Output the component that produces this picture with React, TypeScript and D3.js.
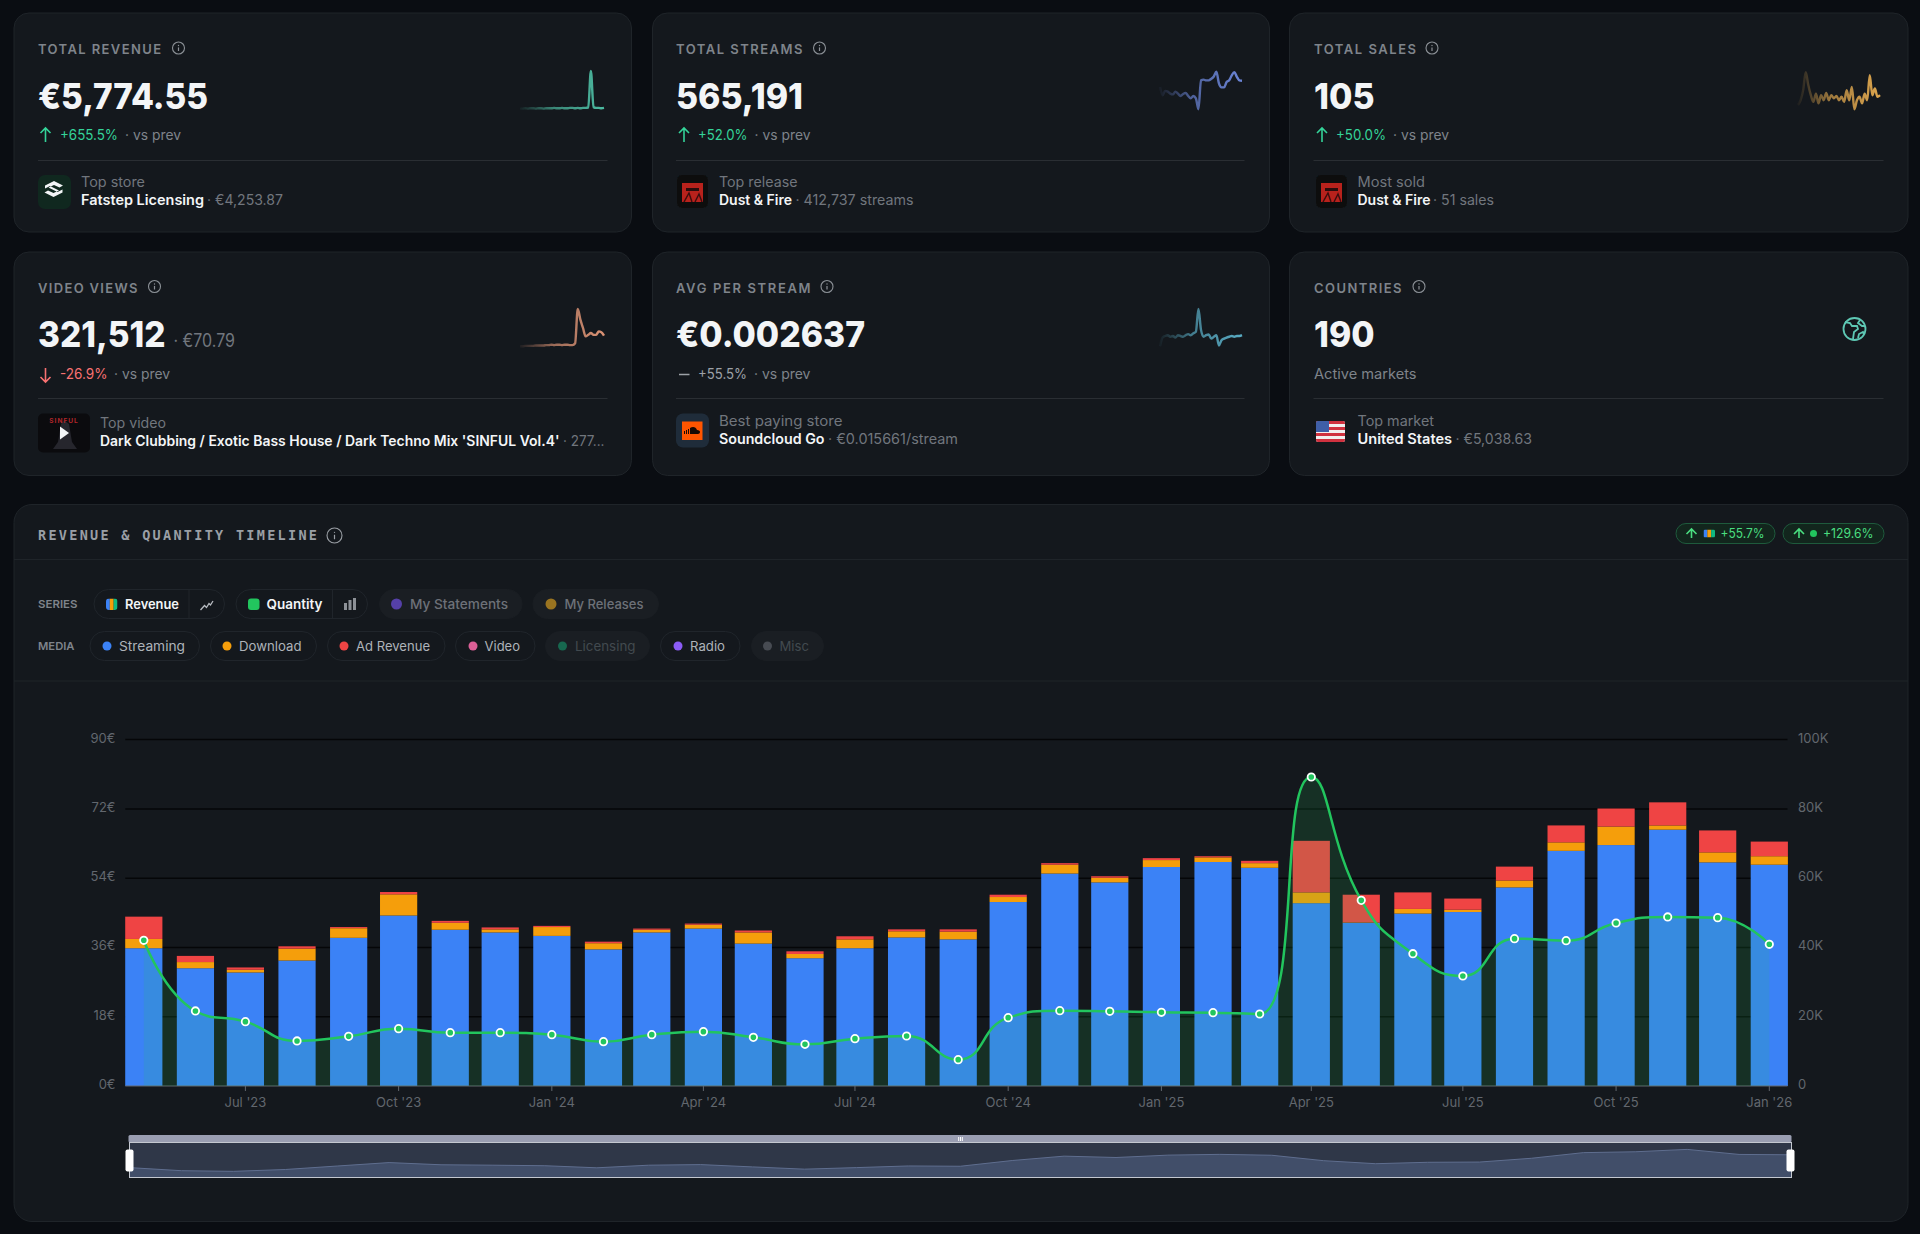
// @ts-nocheck
import * as d3 from "d3"
import * as React from "react"

const months = [
  "2023-05", "2023-06", "2023-07", "2023-08", "2023-09", "2023-10", "2023-11", "2023-12",
  "2024-01", "2024-02", "2024-03", "2024-04", "2024-05", "2024-06", "2024-07", "2024-08",
  "2024-09", "2024-10", "2024-11", "2024-12", "2025-01", "2025-02", "2025-03", "2025-04",
  "2025-05", "2025-06", "2025-07", "2025-08", "2025-09", "2025-10", "2025-11", "2025-12", "2026-01",
]
const streaming = [35.8, 30.6, 29.5, 32.6, 38.5, 44.3, 40.6, 39.9, 39.0, 35.5, 39.9, 40.9, 37.0, 33.2, 35.8, 38.6, 38.1, 47.8, 55.2, 52.9, 56.9, 58.2, 56.7, 47.5, 42.4, 44.8, 45.2, 51.6, 61.1, 62.6, 66.6, 58.1, 57.5]
const download = [2.4, 1.6, 0.7, 3.1, 2.5, 5.5, 1.8, 0.8, 2.3, 1.6, 0.7, 1.0, 2.9, 1.1, 2.3, 1.6, 2.0, 1.3, 2.3, 1.2, 1.8, 1.2, 1.2, 2.8, 0.1, 1.2, 0.6, 1.8, 2.2, 4.8, 1.1, 2.6, 2.2]
const adRevenue = [5.8, 1.6, 0.6, 0.6, 0.3, 0.6, 0.5, 0.5, 0.3, 0.4, 0.3, 0.3, 0.5, 0.7, 0.8, 0.5, 0.6, 0.6, 0.4, 0.4, 0.5, 0.3, 0.6, 13.4, 7.2, 4.3, 2.9, 3.6, 4.4, 4.7, 6.0, 5.7, 3.8]
const quantity = [42060, 21660, 18580, 13000, 14340, 16550, 15400, 15400, 14820, 12800, 14820, 15690, 14050, 12030, 13670, 14440, 7600, 19730, 21750, 21560, 21270, 21170, 20790, 89200, 53600, 38200, 31760, 42540, 41960, 47060, 48800, 48600, 40900]
const tickMonths = ["2023-07", "2023-10", "2024-01", "2024-04", "2024-07", "2024-10", "2025-01", "2025-04", "2025-07", "2025-10", "2026-01"]
const revenueTicks = [0, 18, 36, 54, 72, 90]
const quantityTicks = [0, 20000, 40000, 60000, 80000, 100000]

const sparkRevenue = [1, 1, 2, 1, 2, 2, 1, 2, 2, 1, 2, 2, 2, 3, 2, 2, 3, 2, 2, 3, 3, 2, 3, 2, 3, 3, 4, 100, 5, 3, 3, 2, 3]
const sparkStreams = [59, 38, 49, 47, 42, 40, 47, 42, 36, 41, 44, 36, 30, 36, 30, 2, 76, 78, 76, 76, 80, 86, 98, 68, 58, 58, 72, 76, 89, 97, 85, 76, 75]
const sparkSales = [13, 25, 51, 97, 64, 38, 21, 42, 17, 38, 25, 44, 25, 38, 30, 36, 25, 34, 21, 51, 25, 59, 2, 25, 34, 17, 42, 25, 89, 38, 55, 34, 38]
const sparkVideo = [2, 2, 3, 3, 3, 3, 4, 4, 4, 4, 5, 5, 6, 5, 6, 6, 5, 6, 6, 5, 5, 10, 100, 72, 50, 28, 32, 37, 32, 32, 41, 39, 30]
const sparkAvg = [2, 25, 29, 31, 27, 29, 25, 31, 29, 27, 31, 34, 31, 36, 40, 100, 45, 27, 31, 33, 22, 27, 31, 4, 18, 22, 25, 27, 29, 27, 29, 29, 31]

const UI = "Inter, 'Noto Sans', sans-serif"
const MONO = "'DejaVu Sans Mono', monospace"
const BAR_W = 37.2
const parseMonth = d3.utcParse("%Y-%m")
const fmtTick = d3.utcFormat("%b '%y")

const x = d3.scaleUtc()
  .domain([parseMonth("2023-05"), parseMonth("2026-01")])
  .range([143.8, 1769.3])
const yRev = d3.scaleLinear().domain([0, 90]).range([1086, 739.6])
const yQty = d3.scaleLinear().domain([0, 100000]).range([1086, 739.6])

const table = months.map((m, i) => ({ date: parseMonth(m), streaming: streaming[i], download: download[i], adRevenue: adRevenue[i] }))
const stackKeys = ["streaming", "download", "adRevenue"]
const stackColor = { streaming: "#3b82f6", download: "#f59e0b", adRevenue: "#ef4444" }
const stacked = d3.stack().keys(stackKeys)(table)

// same control points as an echarts smooth line, clamped to the neighbours
function clampedSmooth(smooth) {
  return context => {
    let pts = []
    return {
      lineStart() { pts = [] },
      point(px, py) { pts.push([+px, +py]) },
      lineEnd() {
        context.moveTo(pts[0][0], pts[0][1])
        let cp0 = pts[0]
        for (let i = 0; i < pts.length - 1; i++) {
          const [cx, cy] = pts[i]
          const [nx, ny] = pts[i + 1]
          const after = pts[i + 2]
          if (!after) {
            context.bezierCurveTo(cp0[0], cp0[1], nx, ny, nx, ny)
            break
          }
          const [ax, ay] = after
          const vx = ax - cx
          const vy = ay - cy
          const lenPrev = Math.hypot(nx - cx, ny - cy)
          const lenNext = Math.hypot(ax - nx, ay - ny)
          const ratio = lenNext / (lenNext + lenPrev)
          let c1x = nx + vx * smooth * ratio
          let c1y = ny + vy * smooth * ratio
          c1x = Math.max(Math.min(c1x, Math.max(ax, nx)), Math.min(ax, nx))
          c1y = Math.max(Math.min(c1y, Math.max(ay, ny)), Math.min(ay, ny))
          let c0x = nx - (c1x - nx) * lenPrev / lenNext
          let c0y = ny - (c1y - ny) * lenPrev / lenNext
          c0x = Math.max(Math.min(c0x, Math.max(cx, nx)), Math.min(cx, nx))
          c0y = Math.max(Math.min(c0y, Math.max(cy, ny)), Math.min(cy, ny))
          context.bezierCurveTo(cp0[0], cp0[1], c0x, c0y, nx, ny)
          cp0 = [nx + (nx - c0x) * lenNext / lenPrev, ny + (ny - c0y) * lenNext / lenPrev]
        }
      },
    }
  }
}

const qtyLine = d3.line()
  .x((d, i) => x(table[i].date))
  .y(d => yQty(d))
  .curve(clampedSmooth(0.5))
const qtyPath = qtyLine(quantity)
const qtyArea = `${qtyPath}L${x(table[32].date)},${yQty(0)}L${x(table[0].date)},${yQty(0)}Z`

const miniX = d3.scaleLinear().domain([0, months.length - 1]).range([129.5, 1791])
const miniY = d3.scaleLinear().domain([19.1, 66.6]).range([1177.5, 1149.4])
const miniLine = d3.line().x((d, i) => miniX(i)).y(d => miniY(d))
const miniArea = d3.area().x((d, i) => miniX(i)).y0(1177.5).y1(d => miniY(d))

function T({ x, y, w, size = 14, fill = "#fff", weight = 400, font = UI, anchor, spacing, children }) {
  return (
    <text x={x} y={y} fontSize={size} fill={fill} fontWeight={weight} fontFamily={font} textAnchor={anchor}
      textLength={w} lengthAdjust={w ? (spacing ? "spacing" : "spacingAndGlyphs") : undefined}>
      {children}
    </text>
  )
}

function Info({ cx, cy, r = 6, color = "#8b9096" }) {
  return (
    <g stroke={color} fill="none" strokeWidth={1.1}>
      <circle cx={cx} cy={cy} r={r} />
      <line x1={cx} x2={cx} y1={cy - r * 0.1} y2={cy + r * 0.5} strokeWidth={1.2} />
      <circle cx={cx} cy={cy - r * 0.42} r={0.7} fill={color} stroke="none" />
    </g>
  )
}

function Arrow({ cx, cy, dir = "up", color = "#34d399", size = 7 }) {
  const s = dir === "up" ? -1 : 1
  return (
    <path fill="none" stroke={color} strokeWidth={1.6}
      d={`M${cx},${cy - s * size}L${cx},${cy + s * size}M${cx - 5},${cy + s * (size - 5)}L${cx},${cy + s * size}L${cx + 5},${cy + s * (size - 5)}`} />
  )
}

function Spark({ id, data, x0, x1, top, bottom, color }) {
  const sx = d3.scaleLinear().domain([0, data.length - 1]).range([x0, x1])
  const sy = d3.scaleLinear().domain([0, 100]).range([bottom, top])
  const path = d3.line().x((d, i) => sx(i)).y(d => sy(d)).curve(d3.curveMonotoneX)(data)
  return (
    <g>
      <linearGradient id={id} gradientUnits="userSpaceOnUse" x1={x0} x2={x1} y1={0} y2={0}>
        <stop offset="0" stopColor={color} stopOpacity={0.05} />
        <stop offset="0.4" stopColor={color} stopOpacity={0.65} />
        <stop offset="1" stopColor={color} stopOpacity={0.95} />
      </linearGradient>
      <path d={path} fill="none" stroke={`url(#${id})`} strokeWidth={2.4} filter="url(#soft)" />
    </g>
  )
}

function Card({ x0, x1, y0, y1, r = 15 }) {
  return <rect x={x0 + 0.5} y={y0 + 0.5} width={x1 - x0 - 1} height={y1 - y0 - 1} rx={r} fill="#14181d" stroke="#1f2429" />
}

function Cover({ x0, y0 }) {
  return (
    <g filter="url(#soft)">
      <rect x={x0} y={y0} width={31} height={33} rx={5} fill="#0d0e11" />
      <rect x={x0 + 5} y={y0 + 8} width={21} height={19} fill="#b8201c" />
      <rect x={x0 + 9} y={y0 + 13} width={13} height={3} fill="#2a0a0a" />
      <path d={`M${x0 + 7},${y0 + 27}L${x0 + 12},${y0 + 18}L${x0 + 15},${y0 + 27}M${x0 + 18},${y0 + 27}L${x0 + 22},${y0 + 19}L${x0 + 25},${y0 + 27}`} fill="none" stroke="#3a0c0c" strokeWidth={1.4} />
    </g>
  )
}

function Chip({ x0, x1, cy = 604, off, children }) {
  return <g>
    <rect x={x0 + 0.5} y={cy - 14.5} width={x1 - x0 - 1} height={29} rx={14.5} fill={off ? "#1a1e23" : "#14181d"} stroke={off ? "#1a1e23" : "#20252b"} />
    {children}
  </g>
}

function StripeSwatch({ x0, y0, w, h, rx }) {
  return (
    <g>
      <clipPath id={`sw${x0}`}><rect x={x0} y={y0} width={w} height={h} rx={rx} /></clipPath>
      <g clipPath={`url(#sw${x0})`}>
        <rect x={x0} y={y0} width={w / 3} height={h} fill="#3b82f6" />
        <rect x={x0 + w / 3} y={y0} width={w / 3} height={h} fill="#f59e0b" />
        <rect x={x0 + 2 * w / 3} y={y0} width={w / 3} height={h} fill="#10b981" />
      </g>
    </g>
  )
}

const MUTED = "#7f848b"
const SECOND = "#71767d"
const GREEN = "#34d399"
const RED = "#f87171"

export default function App() {
  const tickColor = "#62676e"
  return (
    <div>
      <style>{"body{margin:0;background:#0a0d12}"}</style>
      <svg width={1920} height={1234} viewBox="0 0 1920 1234" style={{ display: "block" }}>
        <defs>
          <filter id="soft" x="-10%" y="-10%" width="120%" height="120%"><feGaussianBlur stdDeviation="0.6" /></filter>
        </defs>
        <rect width={1920} height={1234} fill="#0a0d12" />

        {/* row 1 */}
        <Card x0={13.5} x1={632} y0={12.5} y1={232.5} />
        <Card x0={652} x1={1270} y0={12.5} y1={232.5} />
        <Card x0={1289} x1={1908.5} y0={12.5} y1={232.5} />

        <T x={38} y={53.5} w={123} size={13} fill={MUTED} weight={600} spacing>TOTAL REVENUE</T>
        <Info cx={178.5} cy={48} />
        <T x={38} y={108.5} w={170} size={36} weight={800} fill="#f3f5f7">€5,774.55</T>
        <Arrow cx={45.5} cy={135} />
        <T x={60} y={139.5} w={58} fill={GREEN}>+655.5%</T>
        <T x={125} y={139.5} w={56} fill={MUTED}>· vs prev</T>
        <line x1={38} x2={607.5} y1={160.5} y2={160.5} stroke="#2a2e33" />
        <rect x={38} y={175} width={33} height={34} rx={7} fill="#10281f" />
        <path d="M54,181l9,4.5l-3.5,2l-5.5,-2.6l-5.5,2.6l9,4.5l5,-2.5v3l-9,4.5l-9,-4.5l3.5,-2l5.5,2.6l5.5,-2.6l-9,-4.5l-5,2.5v-3z" fill="#f3f5f7" />
        <T x={81} y={186.5} w={64} fill={SECOND}>Top store</T>
        <T x={81} y={204.5} w={123} weight={600} fill="#f3f5f7">Fatstep Licensing</T>
        <T x={207} y={204.5} w={76} fill={SECOND}>· €4,253.87</T>
        <Spark id="s1" data={sparkRevenue} x0={520} x1={604} top={71} bottom={109} color="#4fc3a8" />

        <T x={676} y={53.5} w={126.5} size={13} fill={MUTED} weight={600} spacing>TOTAL STREAMS</T>
        <Info cx={819.5} cy={48} />
        <T x={676} y={108.5} w={127} size={36} weight={800} fill="#f3f5f7">565,191</T>
        <Arrow cx={684} cy={135} />
        <T x={698} y={139.5} w={49.5} fill={GREEN}>+52.0%</T>
        <T x={754.5} y={139.5} w={56} fill={MUTED}>· vs prev</T>
        <line x1={676} x2={1244.5} y1={160.5} y2={160.5} stroke="#2a2e33" />
        <Cover x0={677} y0={175} />
        <T x={719} y={186.5} w={78.5} fill={SECOND}>Top release</T>
        <T x={719} y={204.5} w={73} weight={600} fill="#f3f5f7">Dust &amp; Fire</T>
        <T x={795.5} y={204.5} w={118} fill={SECOND}>· 412,737 streams</T>
        <Spark id="s2" data={sparkStreams} x0={1160} x1={1242} top={71} bottom={110} color="#6f8ae0" />

        <T x={1314} y={53.5} w={102} size={13} fill={MUTED} weight={600} spacing>TOTAL SALES</T>
        <Info cx={1432} cy={48} />
        <T x={1314} y={108.5} w={60.5} size={36} weight={800} fill="#f3f5f7">105</T>
        <Arrow cx={1322} cy={135} />
        <T x={1336} y={139.5} w={50} fill={GREEN}>+50.0%</T>
        <T x={1393} y={139.5} w={56} fill={MUTED}>· vs prev</T>
        <line x1={1313.5} x2={1883.5} y1={160.5} y2={160.5} stroke="#2a2e33" />
        <Cover x0={1316} y0={175} />
        <T x={1357.5} y={186.5} w={67.5} fill={SECOND}>Most sold</T>
        <T x={1357.5} y={204.5} w={73} weight={600} fill="#f3f5f7">Dust &amp; Fire</T>
        <T x={1433} y={204.5} w={61} fill={SECOND}>· 51 sales</T>
        <Spark id="s3" data={sparkSales} x0={1798} x1={1880} top={71} bottom={110} color="#e8ad50" />

        {/* row 2 */}
        <Card x0={13.5} x1={632} y0={251.5} y1={476} />
        <Card x0={652} x1={1270} y0={251.5} y1={476} />
        <Card x0={1289} x1={1908.5} y0={251.5} y1={476} />

        <T x={38} y={292.5} w={99.5} size={13} fill={MUTED} weight={600} spacing>VIDEO VIEWS</T>
        <Info cx={154.5} cy={286.5} />
        <T x={38} y={347} w={127.5} size={36} weight={800} fill="#f3f5f7">321,512</T>
        <T x={173.5} y={347} w={61.5} size={18} fill={SECOND}>· €70.79</T>
        <Arrow cx={45.5} cy={375} dir="down" color={RED} />
        <T x={60} y={378.5} w={47.5} fill={RED}>-26.9%</T>
        <T x={114} y={378.5} w={56} fill={MUTED}>· vs prev</T>
        <line x1={38} x2={607.5} y1={398.5} y2={398.5} stroke="#2a2e33" />
        <rect x={38} y={413.5} width={52} height={39} rx={5} fill="#0b0b0e" />
        <path d="M64,420l5,4l3,18l5,7h-24l5,-7l3,-18z" fill="#26262d" />
        <text x={64} y={423} textAnchor="middle" fontSize={6.5} fontWeight={700} letterSpacing={1} fill="#b3262a" fontFamily={UI}>SINFUL</text>
        <path d="M60,426.5l9,6.5l-9,6.5z" fill="#f3f5f7" />
        <T x={100} y={427.5} w={66} fill={SECOND}>Top video</T>
        <T x={100} y={445.5} w={459.5} weight={600} fill="#f3f5f7">Dark Clubbing / Exotic Bass House / Dark Techno Mix 'SINFUL Vol.4'</T>
        <T x={563} y={445.5} w={41.5} fill={SECOND}>· 277...</T>
        <Spark id="s4" data={sparkVideo} x0={520} x1={604} top={309} bottom={347} color="#e59878" />

        <T x={676} y={292.5} w={134.5} size={13} fill={MUTED} weight={600} spacing>AVG PER STREAM</T>
        <Info cx={827} cy={286.5} />
        <T x={676} y={347} w={189} size={36} weight={800} fill="#f3f5f7">€0.002637</T>
        <line x1={679} x2={689.5} y1={374.5} y2={374.5} stroke="#9ca1a7" strokeWidth={1.5} />
        <T x={698} y={378.5} w={49} fill="#9ca1a7">+55.5%</T>
        <T x={754} y={378.5} w={56.5} fill={MUTED}>· vs prev</T>
        <line x1={676} x2={1244.5} y1={398.5} y2={398.5} stroke="#2a2e33" />
        <rect x={676} y={413.5} width={33} height={34} rx={7} fill="#1f2c3a" />
        <rect x={682} y={421.5} width={20.5} height={18.5} fill="#ff5500" />
        <path d="M684,434v-3h1v3zM686,434v-4h1v4zM688,434v-5h1v5zM690,434v-6c3,-2 6,-1 7,2c2,0 3,1 3,2c0,1 -1,2 -2,2z" fill="#1a0a04" />
        <T x={719} y={425.5} w={123.5} fill={SECOND}>Best paying store</T>
        <T x={719} y={443.5} w={105.5} weight={600} fill="#f3f5f7">Soundcloud Go</T>
        <T x={828} y={443.5} w={130} fill={SECOND}>· €0.015661/stream</T>
        <Spark id="s5" data={sparkAvg} x0={1160} x1={1242} top={309} bottom={347} color="#5cb3cc" />

        <T x={1314} y={292.5} w={87.5} size={13} fill={MUTED} weight={600} spacing>COUNTRIES</T>
        <Info cx={1419} cy={286.5} />
        <T x={1314} y={347} w={60.5} size={36} weight={800} fill="#f3f5f7">190</T>
        <T x={1314} y={378.5} w={102.5} fill={MUTED}>Active markets</T>
        <line x1={1313.5} x2={1883.5} y1={398.5} y2={398.5} stroke="#2a2e33" />
        <g fill="none" stroke="#5ec8b4" strokeWidth={1.8}>
          <circle cx={1854.5} cy={329} r={11} />
          <path d="M1845,322l5,1l2,3l5,0l1,3l-4,3l-1,7M1860,320l-2,3l4,3l3,0M1858,338l1,-4l4,-2l1,2" />
        </g>
        <clipPath id="flag"><rect x={1316} y={421} width={29} height={21} rx={2} /></clipPath>
        <g clipPath="url(#flag)">
          <rect x={1316} y={421} width={29} height={21} fill="#f2eeee" />
          {[0, 1, 2, 3].map(i => <rect key={i} x={1316} y={421 + i * 6} width={29} height={3} fill="#d0313f" />)}
          <rect x={1316} y={421} width={13} height={11} fill="#3f5fa8" />
        </g>
        <T x={1357.5} y={425.5} w={76.5} fill={SECOND}>Top market</T>
        <T x={1357.5} y={443.5} w={94.5} weight={600} fill="#f3f5f7">United States</T>
        <T x={1455.5} y={443.5} w={76.5} fill={SECOND}>· €5,038.63</T>

        {/* timeline card */}
        <Card x0={13.5} x1={1908.5} y0={504} y1={1222} r={18} />
        <T x={38} y={539.5} w={279} size={13.5} fill="#9a9fa5" font={MONO} weight={700} spacing>REVENUE &amp; QUANTITY TIMELINE</T>
        <Info cx={334.5} cy={535.5} r={7.5} color="#9a9fa5" />
        <line x1={14} x2={1908} y1={559.5} y2={559.5} stroke="#1f2429" />
        <line x1={14} x2={1908} y1={681} y2={681} stroke="#1f2429" />

        <rect x={1676} y={523.5} width={99} height={20} rx={10} fill="#12261d" stroke="#1e5a3c" />
        <Arrow cx={1691.5} cy={533.5} size={4.5} color="#4ade80" />
        <StripeSwatch x0={1703.5} y0={529.5} w={11.5} h={8} rx={1.5} />
        <T x={1720.5} y={538} w={44} size={13} fill="#4ade80">+55.7%</T>
        <rect x={1783} y={523.5} width={101} height={20} rx={10} fill="#12261d" stroke="#1e5a3c" />
        <Arrow cx={1799} cy={533.5} size={4.5} color="#4ade80" />
        <circle cx={1813.5} cy={533.5} r={3.5} fill="#22c55e" />
        <T x={1823} y={538} w={50.5} size={13} fill="#4ade80">+129.6%</T>

        <T x={38} y={608} w={39.5} size={11} fill={MUTED} weight={600}>SERIES</T>
        <Chip x0={93.5} x1={225}>
          <StripeSwatch x0={106} y0={598.5} w={11.5} h={11.5} rx={3} />
          <T x={125} y={608.5} w={54} size={13} weight={600} fill="#f3f5f7">Revenue</T>
          <line x1={189} x2={189} y1={590} y2={618} stroke="#20252b" />
          <path d="M200.5,610l4,-4.5l2,2l2.5,-4l1.5,1.5l2.5,-4" fill="none" stroke="#b8bcc2" strokeWidth={1.3} />
        </Chip>
        <Chip x0={235.5} x1={368}>
          <rect x={248} y={598.5} width={11.5} height={11.5} rx={3} fill="#22c55e" />
          <T x={266.5} y={608.5} w={56} size={13} weight={600} fill="#f3f5f7">Quantity</T>
          <line x1={332.5} x2={332.5} y1={590} y2={618} stroke="#20252b" />
          <g fill="#8d9197"><rect x={344} y={603} width={3} height={7} /><rect x={348.5} y={600} width={3} height={10} /><rect x={353} y={598} width={3} height={12} /></g>
        </Chip>
        <Chip x0={379} x1={522.5} off>
          <circle cx={396.5} cy={604} r={5.5} fill="#5540a8" />
          <T x={410} y={608.5} w={98} size={13} weight={500} fill="#6d7178">My Statements</T>
        </Chip>
        <Chip x0={532.5} x1={659} off>
          <circle cx={551} cy={604} r={5.5} fill="#9a7420" />
          <T x={564.5} y={608.5} w={79} size={13} weight={500} fill="#6d7178">My Releases</T>
        </Chip>

        <T x={38} y={650} w={36.5} size={11} fill={MUTED} weight={600}>MEDIA</T>
        <Chip x0={89.5} x1={200} cy={646}>
          <circle cx={107} cy={646} r={4.5} fill="#3b82f6" />
          <T x={119} y={650.5} w={66} size={13} fill="#aeb3b9">Streaming</T>
        </Chip>
        <Chip x0={210} x1={317} cy={646}>
          <circle cx={227} cy={646} r={4.5} fill="#f59e0b" />
          <T x={239} y={650.5} w={62.5} size={13} fill="#aeb3b9">Download</T>
        </Chip>
        <Chip x0={327} x1={445.5} cy={646}>
          <circle cx={344} cy={646} r={4.5} fill="#ef4444" />
          <T x={356} y={650.5} w={74} size={13} fill="#aeb3b9">Ad Revenue</T>
        </Chip>
        <Chip x0={455} x1={535.5} cy={646}>
          <circle cx={473} cy={646} r={4.5} fill="#db5f96" />
          <T x={484.5} y={650.5} w={35.5} size={13} fill="#aeb3b9">Video</T>
        </Chip>
        <Chip x0={545} x1={650} cy={646} off>
          <circle cx={562.5} cy={646} r={4.5} fill="#17684f" />
          <T x={575} y={650.5} w={60.5} size={13} fill="#424a4f">Licensing</T>
        </Chip>
        <Chip x0={660} x1={740.5} cy={646}>
          <circle cx={678} cy={646} r={4.5} fill="#8b5cf6" />
          <T x={690} y={650.5} w={35} size={13} fill="#aeb3b9">Radio</T>
        </Chip>
        <Chip x0={751} x1={824} cy={646} off>
          <circle cx={767.5} cy={646} r={4.5} fill="#474b52" />
          <T x={779.5} y={650.5} w={29.5} size={13} fill="#424a4f">Misc</T>
        </Chip>

        {/* chart */}
        {revenueTicks.map(t => (
          <g key={t}>
            {t > 0 && <line x1={125.3} x2={1787.5} y1={yRev(t)} y2={yRev(t)} stroke="#050608" strokeWidth={1.5} />}
            <T x={115.5} y={yRev(t) + 3} size={13} fill={tickColor} anchor="end">{t}€</T>
          </g>
        ))}
        {quantityTicks.map(t => (
          <T key={t} x={1798} y={yQty(t) + 3} size={13} fill={tickColor}>{t === 0 ? "0" : `${t / 1000}K`}</T>
        ))}
        {stacked.map(layer => (
          <g key={layer.key} fill={stackColor[layer.key]}>
            {layer.map((d, i) => (
              <rect key={i} x={x(d.data.date) - BAR_W / 2} width={BAR_W} y={yRev(d[1])} height={yRev(d[0]) - yRev(d[1])} />
            ))}
          </g>
        ))}
        <line x1={125.3} x2={1787.5} y1={yRev(0)} y2={yRev(0)} stroke="#62676e" strokeWidth={1} />
        {tickMonths.map(m => {
          const tx = x(parseMonth(m))
          return (
            <g key={m}>
              <line x1={tx} x2={tx} y1={yRev(0)} y2={yRev(0) + 5} stroke="#62676e" />
              <T x={tx} y={1106.5} size={13} fill={tickColor} anchor="middle">{fmtTick(parseMonth(m))}</T>
            </g>
          )
        })}
        <path d={qtyArea} fill="#22c55e" fillOpacity={0.14} />
        <path d={qtyPath} fill="none" stroke="#22c55e" strokeWidth={2.5} />
        {quantity.map((q, i) => (
          <circle key={i} cx={x(table[i].date)} cy={yQty(q)} r={3.7} fill="#22c55e" stroke="#fff" strokeWidth={1.8} />
        ))}

        {/* slider */}
        <rect x={128.5} y={1135} width={1663} height={7.5} rx={1.5} fill="#9a9eb2" />
        <g fill="#fff">
          <rect x={958.2} y={1137} width={1} height={4} />
          <rect x={960} y={1137} width={1} height={4} />
          <rect x={961.8} y={1137} width={1} height={4} />
        </g>
        <rect x={129.5} y={1143} width={1662} height={34.5} fill="#2f3748" />
        <path d={miniArea(streaming)} fill="#414e69" />
        <path d={miniLine(streaming)} fill="none" stroke="#5f6e8f" strokeWidth={1} />
        <rect x={129.5} y={1142.5} width={1662} height={35} fill="none" stroke="#c4c8d0" strokeWidth={1} />
        <rect x={125.5} y={1149.5} width={8} height={22} rx={2} fill="#fff" />
        <rect x={1786.5} y={1149.5} width={8} height={22} rx={2} fill="#fff" />
      </svg>
    </div>
  )
}
